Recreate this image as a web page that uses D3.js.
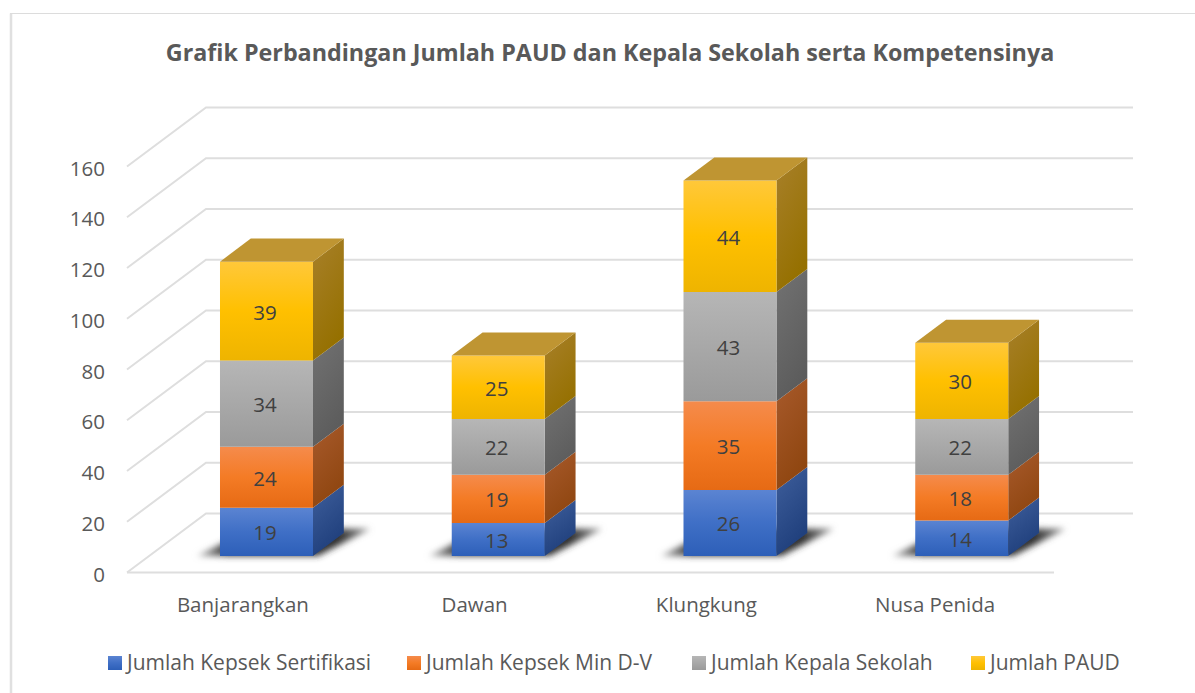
<!DOCTYPE html>
<html>
<head>
<meta charset="utf-8">
<script src="https://cdn.jsdelivr.net/npm/d3@7"></script>
<style>
  html, body { margin: 0; padding: 0; background: #fff; }
  text { font-family: "Open Sans", sans-serif; fill: #595959; }
</style>
</head>
<body>
<div id="chart"></div>
<script>
const title = "Grafik Perbandingan Jumlah PAUD dan Kepala Sekolah serta Kompetensinya";
const categories = ["Banjarangkan", "Dawan", "Klungkung", "Nusa Penida"];
const seriesNames = ["Jumlah Kepsek Sertifikasi", "Jumlah Kepsek Min D-V", "Jumlah Kepala Sekolah", "Jumlah PAUD"];
const sertifikasi = [19, 13, 26, 14];
const minDV = [24, 19, 35, 18];
const kepalaSekolah = [34, 22, 43, 22];
const paud = [39, 25, 44, 30];
const yTicks = [0, 20, 40, 60, 80, 100, 120, 140, 160];

const width = 1195;
const height = 693;

const svg = d3.select("#chart")
  .append("svg")
  .attr("width", width)
  .attr("height", height)
  .style("display", "block");

// colours per series: front top/mid/bottom, side top/bottom
const colors = [
  { f: ["#5b84d2", "#3f6fc6", "#2d5fb8"], s: ["#3f5f9c", "#1f3f7c"] },
  { f: ["#f58b4c", "#f47b25", "#e66a14"], s: ["#a85a2c", "#8f4610"] },
  { f: ["#b6b6b6", "#a8a8a8", "#9a9a9a"], s: ["#727272", "#5c5c5c"] },
  { f: ["#ffc83a", "#ffc000", "#eeb400"], s: ["#a8802a", "#957000"] }
];
const topColor = "#bf9532";

const defs = svg.append("defs");
colors.forEach((c, i) => {
  const front = defs.append("linearGradient")
    .attr("id", `front${i}`)
    .attr("x1", 0).attr("y1", 0).attr("x2", 0).attr("y2", 1);
  c.f.forEach((col, k) => front.append("stop").attr("offset", k * 50 + "%").attr("stop-color", col));
  const side = defs.append("linearGradient")
    .attr("id", `side${i}`)
    .attr("x1", 0).attr("y1", 0).attr("x2", 0.4).attr("y2", 1);
  c.s.forEach((col, k) => side.append("stop").attr("offset", k * 100 + "%").attr("stop-color", col));
});
defs.append("filter").attr("id", "soft")
  .attr("x", "-20%").attr("y", "-30%").attr("width", "140%").attr("height", "160%")
  .append("feGaussianBlur").attr("stdDeviation", 3);
const shade = defs.append("linearGradient").attr("id", "shade");
shade.append("stop").attr("offset", "0%").attr("stop-color", "#bbb");
shade.append("stop").attr("offset", "18%").attr("stop-color", "#333");
shade.append("stop").attr("offset", "82%").attr("stop-color", "#333");
shade.append("stop").attr("offset", "100%").attr("stop-color", "#999");

// outer frame
svg.append("path")
  .attr("d", "M11,693V13.5")
  .attr("stroke", "#e0e0e0")
  .attr("stroke-width", 2.5);
svg.append("path")
  .attr("d", "M10,13.5H1195")
  .attr("stroke", "#dcdcdc")
  .attr("stroke-width", 1.2);

svg.append("text")
  .attr("x", 610)
  .attr("y", 61)
  .attr("text-anchor", "middle")
  .attr("font-size", 23.3)
  .attr("font-weight", 700)
  .text(title);

// scales: x along the front edge of the floor, y is height on the front wall
const xScale = d3.scaleBand().domain(categories).range([127, 1054]);
const yScale = d3.scaleLinear().domain([0, 160]).range([572.5, 166.5]);
const depthX = 79;
const depthY = -59;
const project = (x, v, z) => [x + z * depthX, yScale(v) + z * depthY];
const pathOf = pts => "M" + pts.map(p => p.join(",")).join("L") + "Z";

// gridlines: side wall + back wall, floor front edge
const grid = svg.append("g").attr("fill", "none").attr("stroke", "#dedede").attr("stroke-width", 2);
yTicks.forEach(t => {
  const a = project(127, t, 0);
  const b = project(127, t, 1);
  const c = project(1054, t, 1);
  grid.append("path").attr("d", `M${a}L${b}L${c}`);
});
grid.append("path").attr("d", `M127,${yScale(0)}H1054`);

// y axis labels
svg.append("g")
  .selectAll("text")
  .data(yTicks)
  .enter()
  .append("text")
  .attr("x", 105)
  .attr("y", d => yScale(d) + 9)
  .attr("text-anchor", "end")
  .attr("font-size", 20.5)
  .text(d => d);

// bars
const barWidth = 93;
const zFront = 0.28;
const zBack = 0.67;
const stacks = d3.stack().keys([0, 1, 2, 3]).value((d, k) => d[k])(
  d3.transpose([sertifikasi, minDV, kepalaSekolah, paud])
);

categories.forEach((cat, ci) => {
  const x0 = xScale(cat) + xScale.bandwidth() / 2 - barWidth / 2 + 1.5;
  const x1 = x0 + barWidth;
  const g = svg.append("g");

  // floor shadow
  g.append("path")
    .attr("d", pathOf([
      project(x0 - 23, 0, zFront),
      project(x0 - 5, 0, 0.74),
      project(x1 + 2, 0, 0.74),
      project(x1 + 21, 0, 0.74),
      project(x1 + 5, 0, zFront)
    ]))
    .attr("fill", "url(#shade)")
    .attr("filter", "url(#soft)");

  stacks.forEach((s, si) => {
    const lo = s[ci][0];
    const hi = s[ci][1];
    // side face
    g.append("path")
      .attr("d", pathOf([project(x1, lo, zFront), project(x1, lo, zBack), project(x1, hi, zBack), project(x1, hi, zFront)]))
      .attr("fill", `url(#side${si})`);
    // front face
    g.append("path")
      .attr("d", pathOf([project(x0, lo, zFront), project(x1, lo, zFront), project(x1, hi, zFront), project(x0, hi, zFront)]))
      .attr("fill", `url(#front${si})`);
    // value label
    const mid = project((x0 + x1) / 2, (lo + hi) / 2, zFront);
    g.append("text")
      .attr("x", mid[0] - 1.5)
      .attr("y", mid[1] + 8.5)
      .attr("text-anchor", "middle")
      .attr("font-size", 20.5)
      .attr("style", "fill:#404040")
      .text(hi - lo);
  });

  // top face
  const top = stacks[3][ci][1];
  g.append("path")
    .attr("d", pathOf([project(x0, top, zFront), project(x1, top, zFront), project(x1, top, zBack), project(x0, top, zBack)]))
    .attr("fill", topColor);
});

// category labels
svg.append("g")
  .selectAll("text")
  .data(categories)
  .enter()
  .append("text")
  .attr("x", d => xScale(d) + xScale.bandwidth() / 2 - (d === "Nusa Penida" ? 3 : 0))
  .attr("y", 612)
  .attr("text-anchor", "middle")
  .attr("font-size", 20.5)
  .text(d => d);

// legend
const legendX = [108, 407, 692, 971];
const legend = svg.append("g");
seriesNames.forEach((name, i) => {
  legend.append("rect")
    .attr("x", legendX[i])
    .attr("y", 656)
    .attr("width", 14)
    .attr("height", 14)
    .attr("fill", `url(#front${i})`);
  legend.append("text")
    .attr("x", legendX[i] + 19)
    .attr("y", 670)
    .attr("font-size", 21)
    .text(name);
});
</script>
</body>
</html>
